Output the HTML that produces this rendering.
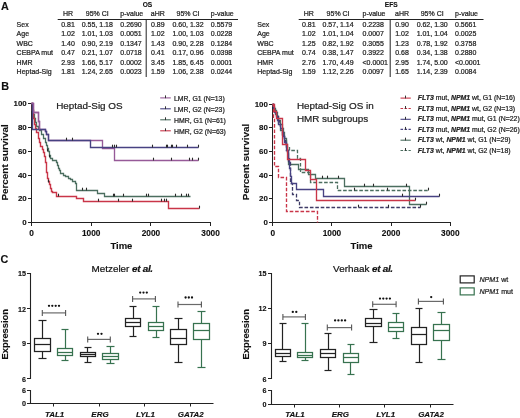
<!DOCTYPE html>
<html><head><meta charset="utf-8"><style>
html,body{margin:0;padding:0;background:#fff;width:520px;height:418px;overflow:hidden}
svg{display:block;will-change:transform}
text{font-family:"Liberation Sans", sans-serif}
</style></head><body>
<svg width="520" height="418" viewBox="0 0 520 418">
<text x="1.0" y="9.6" font-size="10.8" font-weight="bold" font-style="normal" text-anchor="start" fill="#111" stroke="#111" stroke-width="0.132" >A</text>
<text x="147.4" y="6.8" font-size="6.6" font-weight="bold" font-style="normal" text-anchor="middle" fill="#111" stroke="#111" stroke-width="0.132" >OS</text>
<text x="391.2" y="6.8" font-size="6.6" font-weight="bold" font-style="normal" text-anchor="middle" fill="#111" stroke="#111" stroke-width="0.132" >EFS</text>
<text x="68.0" y="15.8" font-size="7.0" font-weight="normal" font-style="normal" text-anchor="middle" fill="#222" stroke="#222" stroke-width="0.22" >HR</text>
<text x="97.3" y="15.8" font-size="7.0" font-weight="normal" font-style="normal" text-anchor="middle" fill="#222" stroke="#222" stroke-width="0.22" >95% CI</text>
<text x="120.3" y="15.8" font-size="7.0" font-weight="normal" font-style="normal" text-anchor="start" fill="#222" stroke="#222" stroke-width="0.22" >p-value</text>
<text x="157.8" y="15.8" font-size="7.0" font-weight="normal" font-style="normal" text-anchor="middle" fill="#222" stroke="#222" stroke-width="0.22" >aHR</text>
<text x="188.0" y="15.8" font-size="7.0" font-weight="normal" font-style="normal" text-anchor="middle" fill="#222" stroke="#222" stroke-width="0.22" >95% CI</text>
<text x="210.8" y="15.8" font-size="7.0" font-weight="normal" font-style="normal" text-anchor="start" fill="#222" stroke="#222" stroke-width="0.22" >p-value</text>
<line x1="57.7" y1="19.5" x2="238.0" y2="19.5" stroke="#222" stroke-width="1" />
<line x1="146.2" y1="19.5" x2="146.2" y2="77" stroke="#222" stroke-width="1" />
<text x="16.6" y="26.9" font-size="7.0" font-weight="normal" font-style="normal" text-anchor="start" fill="#222" stroke="#222" stroke-width="0.22" >Sex</text>
<text x="68.0" y="26.9" font-size="7.0" font-weight="normal" font-style="normal" text-anchor="middle" fill="#222" stroke="#222" stroke-width="0.22" >0.81</text>
<text x="97.3" y="26.9" font-size="7.0" font-weight="normal" font-style="normal" text-anchor="middle" fill="#222" stroke="#222" stroke-width="0.22" >0.55, 1.18</text>
<text x="120.3" y="26.9" font-size="7.0" font-weight="normal" font-style="normal" text-anchor="start" fill="#222" stroke="#222" stroke-width="0.22" >0.2690</text>
<text x="157.8" y="26.9" font-size="7.0" font-weight="normal" font-style="normal" text-anchor="middle" fill="#222" stroke="#222" stroke-width="0.22" >0.89</text>
<text x="188.0" y="26.9" font-size="7.0" font-weight="normal" font-style="normal" text-anchor="middle" fill="#222" stroke="#222" stroke-width="0.22" >0.60, 1.32</text>
<text x="210.8" y="26.9" font-size="7.0" font-weight="normal" font-style="normal" text-anchor="start" fill="#222" stroke="#222" stroke-width="0.22" >0.5579</text>
<text x="16.6" y="36.3" font-size="7.0" font-weight="normal" font-style="normal" text-anchor="start" fill="#222" stroke="#222" stroke-width="0.22" >Age</text>
<text x="68.0" y="36.3" font-size="7.0" font-weight="normal" font-style="normal" text-anchor="middle" fill="#222" stroke="#222" stroke-width="0.22" >1.02</text>
<text x="97.3" y="36.3" font-size="7.0" font-weight="normal" font-style="normal" text-anchor="middle" fill="#222" stroke="#222" stroke-width="0.22" >1.01, 1.03</text>
<text x="120.3" y="36.3" font-size="7.0" font-weight="normal" font-style="normal" text-anchor="start" fill="#222" stroke="#222" stroke-width="0.22" >0.0051</text>
<text x="157.8" y="36.3" font-size="7.0" font-weight="normal" font-style="normal" text-anchor="middle" fill="#222" stroke="#222" stroke-width="0.22" >1.02</text>
<text x="188.0" y="36.3" font-size="7.0" font-weight="normal" font-style="normal" text-anchor="middle" fill="#222" stroke="#222" stroke-width="0.22" >1.00, 1.03</text>
<text x="210.8" y="36.3" font-size="7.0" font-weight="normal" font-style="normal" text-anchor="start" fill="#222" stroke="#222" stroke-width="0.22" >0.0228</text>
<text x="16.6" y="45.7" font-size="7.0" font-weight="normal" font-style="normal" text-anchor="start" fill="#222" stroke="#222" stroke-width="0.22" >WBC</text>
<text x="68.0" y="45.7" font-size="7.0" font-weight="normal" font-style="normal" text-anchor="middle" fill="#222" stroke="#222" stroke-width="0.22" >1.40</text>
<text x="97.3" y="45.7" font-size="7.0" font-weight="normal" font-style="normal" text-anchor="middle" fill="#222" stroke="#222" stroke-width="0.22" >0.90, 2.19</text>
<text x="120.3" y="45.7" font-size="7.0" font-weight="normal" font-style="normal" text-anchor="start" fill="#222" stroke="#222" stroke-width="0.22" >0.1347</text>
<text x="157.8" y="45.7" font-size="7.0" font-weight="normal" font-style="normal" text-anchor="middle" fill="#222" stroke="#222" stroke-width="0.22" >1.43</text>
<text x="188.0" y="45.7" font-size="7.0" font-weight="normal" font-style="normal" text-anchor="middle" fill="#222" stroke="#222" stroke-width="0.22" >0.90, 2.28</text>
<text x="210.8" y="45.7" font-size="7.0" font-weight="normal" font-style="normal" text-anchor="start" fill="#222" stroke="#222" stroke-width="0.22" >0.1284</text>
<text x="16.6" y="55.1" font-size="7.0" font-weight="normal" font-style="normal" text-anchor="start" fill="#222" stroke="#222" stroke-width="0.22" >CEBPA mut</text>
<text x="68.0" y="55.1" font-size="7.0" font-weight="normal" font-style="normal" text-anchor="middle" fill="#222" stroke="#222" stroke-width="0.22" >0.47</text>
<text x="97.3" y="55.1" font-size="7.0" font-weight="normal" font-style="normal" text-anchor="middle" fill="#222" stroke="#222" stroke-width="0.22" >0.21, 1.07</text>
<text x="120.3" y="55.1" font-size="7.0" font-weight="normal" font-style="normal" text-anchor="start" fill="#222" stroke="#222" stroke-width="0.22" >0.0718</text>
<text x="157.8" y="55.1" font-size="7.0" font-weight="normal" font-style="normal" text-anchor="middle" fill="#222" stroke="#222" stroke-width="0.22" >0.41</text>
<text x="188.0" y="55.1" font-size="7.0" font-weight="normal" font-style="normal" text-anchor="middle" fill="#222" stroke="#222" stroke-width="0.22" >0.17, 0.96</text>
<text x="210.8" y="55.1" font-size="7.0" font-weight="normal" font-style="normal" text-anchor="start" fill="#222" stroke="#222" stroke-width="0.22" >0.0398</text>
<text x="16.6" y="64.5" font-size="7.0" font-weight="normal" font-style="normal" text-anchor="start" fill="#222" stroke="#222" stroke-width="0.22" >HMR</text>
<text x="68.0" y="64.5" font-size="7.0" font-weight="normal" font-style="normal" text-anchor="middle" fill="#222" stroke="#222" stroke-width="0.22" >2.93</text>
<text x="97.3" y="64.5" font-size="7.0" font-weight="normal" font-style="normal" text-anchor="middle" fill="#222" stroke="#222" stroke-width="0.22" >1.66, 5.17</text>
<text x="120.3" y="64.5" font-size="7.0" font-weight="normal" font-style="normal" text-anchor="start" fill="#222" stroke="#222" stroke-width="0.22" >0.0002</text>
<text x="157.8" y="64.5" font-size="7.0" font-weight="normal" font-style="normal" text-anchor="middle" fill="#222" stroke="#222" stroke-width="0.22" >3.45</text>
<text x="188.0" y="64.5" font-size="7.0" font-weight="normal" font-style="normal" text-anchor="middle" fill="#222" stroke="#222" stroke-width="0.22" >1.85, 6.45</text>
<text x="210.8" y="64.5" font-size="7.0" font-weight="normal" font-style="normal" text-anchor="start" fill="#222" stroke="#222" stroke-width="0.22" >0.0001</text>
<text x="16.6" y="73.9" font-size="7.0" font-weight="normal" font-style="normal" text-anchor="start" fill="#222" stroke="#222" stroke-width="0.22" >Heptad-Sig</text>
<text x="68.0" y="73.9" font-size="7.0" font-weight="normal" font-style="normal" text-anchor="middle" fill="#222" stroke="#222" stroke-width="0.22" >1.81</text>
<text x="97.3" y="73.9" font-size="7.0" font-weight="normal" font-style="normal" text-anchor="middle" fill="#222" stroke="#222" stroke-width="0.22" >1.24, 2.65</text>
<text x="120.3" y="73.9" font-size="7.0" font-weight="normal" font-style="normal" text-anchor="start" fill="#222" stroke="#222" stroke-width="0.22" >0.0023</text>
<text x="157.8" y="73.9" font-size="7.0" font-weight="normal" font-style="normal" text-anchor="middle" fill="#222" stroke="#222" stroke-width="0.22" >1.59</text>
<text x="188.0" y="73.9" font-size="7.0" font-weight="normal" font-style="normal" text-anchor="middle" fill="#222" stroke="#222" stroke-width="0.22" >1.06, 2.38</text>
<text x="210.8" y="73.9" font-size="7.0" font-weight="normal" font-style="normal" text-anchor="start" fill="#222" stroke="#222" stroke-width="0.22" >0.0244</text>
<text x="308.8" y="15.8" font-size="7.0" font-weight="normal" font-style="normal" text-anchor="middle" fill="#222" stroke="#222" stroke-width="0.22" >HR</text>
<text x="338.1" y="15.8" font-size="7.0" font-weight="normal" font-style="normal" text-anchor="middle" fill="#222" stroke="#222" stroke-width="0.22" >95% CI</text>
<text x="362.5" y="15.8" font-size="7.0" font-weight="normal" font-style="normal" text-anchor="start" fill="#222" stroke="#222" stroke-width="0.22" >p-value</text>
<text x="402.0" y="15.8" font-size="7.0" font-weight="normal" font-style="normal" text-anchor="middle" fill="#222" stroke="#222" stroke-width="0.22" >aHR</text>
<text x="432.2" y="15.8" font-size="7.0" font-weight="normal" font-style="normal" text-anchor="middle" fill="#222" stroke="#222" stroke-width="0.22" >95% CI</text>
<text x="455.0" y="15.8" font-size="7.0" font-weight="normal" font-style="normal" text-anchor="start" fill="#222" stroke="#222" stroke-width="0.22" >p-value</text>
<line x1="298.7" y1="19.5" x2="483.5" y2="19.5" stroke="#222" stroke-width="1" />
<line x1="390.2" y1="19.5" x2="390.2" y2="77" stroke="#222" stroke-width="1" />
<text x="257.3" y="26.9" font-size="7.0" font-weight="normal" font-style="normal" text-anchor="start" fill="#222" stroke="#222" stroke-width="0.22" >Sex</text>
<text x="308.8" y="26.9" font-size="7.0" font-weight="normal" font-style="normal" text-anchor="middle" fill="#222" stroke="#222" stroke-width="0.22" >0.81</text>
<text x="338.1" y="26.9" font-size="7.0" font-weight="normal" font-style="normal" text-anchor="middle" fill="#222" stroke="#222" stroke-width="0.22" >0.57, 1.14</text>
<text x="362.5" y="26.9" font-size="7.0" font-weight="normal" font-style="normal" text-anchor="start" fill="#222" stroke="#222" stroke-width="0.22" >0.2238</text>
<text x="402.0" y="26.9" font-size="7.0" font-weight="normal" font-style="normal" text-anchor="middle" fill="#222" stroke="#222" stroke-width="0.22" >0.90</text>
<text x="432.2" y="26.9" font-size="7.0" font-weight="normal" font-style="normal" text-anchor="middle" fill="#222" stroke="#222" stroke-width="0.22" >0.62, 1.30</text>
<text x="455.0" y="26.9" font-size="7.0" font-weight="normal" font-style="normal" text-anchor="start" fill="#222" stroke="#222" stroke-width="0.22" >0.5661</text>
<text x="257.3" y="36.3" font-size="7.0" font-weight="normal" font-style="normal" text-anchor="start" fill="#222" stroke="#222" stroke-width="0.22" >Age</text>
<text x="308.8" y="36.3" font-size="7.0" font-weight="normal" font-style="normal" text-anchor="middle" fill="#222" stroke="#222" stroke-width="0.22" >1.02</text>
<text x="338.1" y="36.3" font-size="7.0" font-weight="normal" font-style="normal" text-anchor="middle" fill="#222" stroke="#222" stroke-width="0.22" >1.01, 1.04</text>
<text x="362.5" y="36.3" font-size="7.0" font-weight="normal" font-style="normal" text-anchor="start" fill="#222" stroke="#222" stroke-width="0.22" >0.0007</text>
<text x="402.0" y="36.3" font-size="7.0" font-weight="normal" font-style="normal" text-anchor="middle" fill="#222" stroke="#222" stroke-width="0.22" >1.02</text>
<text x="432.2" y="36.3" font-size="7.0" font-weight="normal" font-style="normal" text-anchor="middle" fill="#222" stroke="#222" stroke-width="0.22" >1.01, 1.04</text>
<text x="455.0" y="36.3" font-size="7.0" font-weight="normal" font-style="normal" text-anchor="start" fill="#222" stroke="#222" stroke-width="0.22" >0.0025</text>
<text x="257.3" y="45.7" font-size="7.0" font-weight="normal" font-style="normal" text-anchor="start" fill="#222" stroke="#222" stroke-width="0.22" >WBC</text>
<text x="308.8" y="45.7" font-size="7.0" font-weight="normal" font-style="normal" text-anchor="middle" fill="#222" stroke="#222" stroke-width="0.22" >1.25</text>
<text x="338.1" y="45.7" font-size="7.0" font-weight="normal" font-style="normal" text-anchor="middle" fill="#222" stroke="#222" stroke-width="0.22" >0.82, 1.92</text>
<text x="362.5" y="45.7" font-size="7.0" font-weight="normal" font-style="normal" text-anchor="start" fill="#222" stroke="#222" stroke-width="0.22" >0.3055</text>
<text x="402.0" y="45.7" font-size="7.0" font-weight="normal" font-style="normal" text-anchor="middle" fill="#222" stroke="#222" stroke-width="0.22" >1.23</text>
<text x="432.2" y="45.7" font-size="7.0" font-weight="normal" font-style="normal" text-anchor="middle" fill="#222" stroke="#222" stroke-width="0.22" >0.78, 1.92</text>
<text x="455.0" y="45.7" font-size="7.0" font-weight="normal" font-style="normal" text-anchor="start" fill="#222" stroke="#222" stroke-width="0.22" >0.3758</text>
<text x="257.3" y="55.1" font-size="7.0" font-weight="normal" font-style="normal" text-anchor="start" fill="#222" stroke="#222" stroke-width="0.22" >CEBPA mut</text>
<text x="308.8" y="55.1" font-size="7.0" font-weight="normal" font-style="normal" text-anchor="middle" fill="#222" stroke="#222" stroke-width="0.22" >0.74</text>
<text x="338.1" y="55.1" font-size="7.0" font-weight="normal" font-style="normal" text-anchor="middle" fill="#222" stroke="#222" stroke-width="0.22" >0.38, 1.47</text>
<text x="362.5" y="55.1" font-size="7.0" font-weight="normal" font-style="normal" text-anchor="start" fill="#222" stroke="#222" stroke-width="0.22" >0.3922</text>
<text x="402.0" y="55.1" font-size="7.0" font-weight="normal" font-style="normal" text-anchor="middle" fill="#222" stroke="#222" stroke-width="0.22" >0.68</text>
<text x="432.2" y="55.1" font-size="7.0" font-weight="normal" font-style="normal" text-anchor="middle" fill="#222" stroke="#222" stroke-width="0.22" >0.34, 1.38</text>
<text x="455.0" y="55.1" font-size="7.0" font-weight="normal" font-style="normal" text-anchor="start" fill="#222" stroke="#222" stroke-width="0.22" >0.2880</text>
<text x="257.3" y="64.5" font-size="7.0" font-weight="normal" font-style="normal" text-anchor="start" fill="#222" stroke="#222" stroke-width="0.22" >HMR</text>
<text x="308.8" y="64.5" font-size="7.0" font-weight="normal" font-style="normal" text-anchor="middle" fill="#222" stroke="#222" stroke-width="0.22" >2.76</text>
<text x="338.1" y="64.5" font-size="7.0" font-weight="normal" font-style="normal" text-anchor="middle" fill="#222" stroke="#222" stroke-width="0.22" >1.70, 4.49</text>
<text x="362.5" y="64.5" font-size="7.0" font-weight="normal" font-style="normal" text-anchor="start" fill="#222" stroke="#222" stroke-width="0.22" >&lt;0.0001</text>
<text x="402.0" y="64.5" font-size="7.0" font-weight="normal" font-style="normal" text-anchor="middle" fill="#222" stroke="#222" stroke-width="0.22" >2.95</text>
<text x="432.2" y="64.5" font-size="7.0" font-weight="normal" font-style="normal" text-anchor="middle" fill="#222" stroke="#222" stroke-width="0.22" >1.74, 5.00</text>
<text x="455.0" y="64.5" font-size="7.0" font-weight="normal" font-style="normal" text-anchor="start" fill="#222" stroke="#222" stroke-width="0.22" >&lt;0.0001</text>
<text x="257.3" y="73.9" font-size="7.0" font-weight="normal" font-style="normal" text-anchor="start" fill="#222" stroke="#222" stroke-width="0.22" >Heptad-Sig</text>
<text x="308.8" y="73.9" font-size="7.0" font-weight="normal" font-style="normal" text-anchor="middle" fill="#222" stroke="#222" stroke-width="0.22" >1.59</text>
<text x="338.1" y="73.9" font-size="7.0" font-weight="normal" font-style="normal" text-anchor="middle" fill="#222" stroke="#222" stroke-width="0.22" >1.12, 2.26</text>
<text x="362.5" y="73.9" font-size="7.0" font-weight="normal" font-style="normal" text-anchor="start" fill="#222" stroke="#222" stroke-width="0.22" >0.0097</text>
<text x="402.0" y="73.9" font-size="7.0" font-weight="normal" font-style="normal" text-anchor="middle" fill="#222" stroke="#222" stroke-width="0.22" >1.65</text>
<text x="432.2" y="73.9" font-size="7.0" font-weight="normal" font-style="normal" text-anchor="middle" fill="#222" stroke="#222" stroke-width="0.22" >1.14, 2.39</text>
<text x="455.0" y="73.9" font-size="7.0" font-weight="normal" font-style="normal" text-anchor="start" fill="#222" stroke="#222" stroke-width="0.22" >0.0084</text>
<text x="1.2" y="89.8" font-size="10.8" font-weight="bold" font-style="normal" text-anchor="start" fill="#111" stroke="#111" stroke-width="0.132" >B</text>
<line x1="31.5" y1="223.0" x2="31.5" y2="103.0" stroke="#222" stroke-width="1" />
<line x1="31.0" y1="222.5" x2="211.0" y2="222.5" stroke="#222" stroke-width="1" />
<line x1="28.0" y1="222.5" x2="31.5" y2="222.5" stroke="#222" stroke-width="1" />
<text x="26.7" y="225.20000000000002" font-size="7.9" font-weight="bold" font-style="normal" text-anchor="end" fill="#111" stroke="#111" stroke-width="0.132" >0</text>
<line x1="28.0" y1="198.5" x2="31.5" y2="198.5" stroke="#222" stroke-width="1" />
<text x="26.7" y="201.4" font-size="7.9" font-weight="bold" font-style="normal" text-anchor="end" fill="#111" stroke="#111" stroke-width="0.132" >20</text>
<line x1="28.0" y1="175.5" x2="31.5" y2="175.5" stroke="#222" stroke-width="1" />
<text x="26.7" y="177.6" font-size="7.9" font-weight="bold" font-style="normal" text-anchor="end" fill="#111" stroke="#111" stroke-width="0.132" >40</text>
<line x1="28.0" y1="151.5" x2="31.5" y2="151.5" stroke="#222" stroke-width="1" />
<text x="26.7" y="153.8" font-size="7.9" font-weight="bold" font-style="normal" text-anchor="end" fill="#111" stroke="#111" stroke-width="0.132" >60</text>
<line x1="28.0" y1="127.5" x2="31.5" y2="127.5" stroke="#222" stroke-width="1" />
<text x="26.7" y="130.0" font-size="7.9" font-weight="bold" font-style="normal" text-anchor="end" fill="#111" stroke="#111" stroke-width="0.132" >80</text>
<line x1="28.0" y1="103.5" x2="31.5" y2="103.5" stroke="#222" stroke-width="1" />
<text x="26.7" y="106.2" font-size="7.9" font-weight="bold" font-style="normal" text-anchor="end" fill="#111" stroke="#111" stroke-width="0.132" >100</text>
<line x1="31.5" y1="222.5" x2="31.5" y2="226.0" stroke="#222" stroke-width="1" />
<text x="31.5" y="235.7" font-size="8.3" font-weight="bold" font-style="normal" text-anchor="middle" fill="#111" stroke="#111" stroke-width="0.132" >0</text>
<line x1="91.5" y1="222.5" x2="91.5" y2="226.0" stroke="#222" stroke-width="1" />
<text x="91.2" y="235.7" font-size="8.3" font-weight="bold" font-style="normal" text-anchor="middle" fill="#111" stroke="#111" stroke-width="0.132" >1000</text>
<line x1="150.5" y1="222.5" x2="150.5" y2="226.0" stroke="#222" stroke-width="1" />
<text x="150.9" y="235.7" font-size="8.3" font-weight="bold" font-style="normal" text-anchor="middle" fill="#111" stroke="#111" stroke-width="0.132" >2000</text>
<line x1="210.5" y1="222.5" x2="210.5" y2="226.0" stroke="#222" stroke-width="1" />
<text x="210.60000000000002" y="235.7" font-size="8.3" font-weight="bold" font-style="normal" text-anchor="middle" fill="#111" stroke="#111" stroke-width="0.132" >3000</text>
<line x1="272.5" y1="223.0" x2="272.5" y2="104.0" stroke="#222" stroke-width="1" />
<line x1="272.0" y1="222.5" x2="451.0" y2="222.5" stroke="#222" stroke-width="1" />
<line x1="269.0" y1="222.5" x2="272.5" y2="222.5" stroke="#222" stroke-width="1" />
<text x="267.9" y="225.1" font-size="7.9" font-weight="bold" font-style="normal" text-anchor="end" fill="#111" stroke="#111" stroke-width="0.132" >0</text>
<line x1="269.0" y1="198.5" x2="272.5" y2="198.5" stroke="#222" stroke-width="1" />
<text x="267.9" y="201.38" font-size="7.9" font-weight="bold" font-style="normal" text-anchor="end" fill="#111" stroke="#111" stroke-width="0.132" >20</text>
<line x1="269.0" y1="175.5" x2="272.5" y2="175.5" stroke="#222" stroke-width="1" />
<text x="267.9" y="177.66" font-size="7.9" font-weight="bold" font-style="normal" text-anchor="end" fill="#111" stroke="#111" stroke-width="0.132" >40</text>
<line x1="269.0" y1="151.5" x2="272.5" y2="151.5" stroke="#222" stroke-width="1" />
<text x="267.9" y="153.94" font-size="7.9" font-weight="bold" font-style="normal" text-anchor="end" fill="#111" stroke="#111" stroke-width="0.132" >60</text>
<line x1="269.0" y1="127.5" x2="272.5" y2="127.5" stroke="#222" stroke-width="1" />
<text x="267.9" y="130.22" font-size="7.9" font-weight="bold" font-style="normal" text-anchor="end" fill="#111" stroke="#111" stroke-width="0.132" >80</text>
<line x1="269.0" y1="104.5" x2="272.5" y2="104.5" stroke="#222" stroke-width="1" />
<text x="267.9" y="106.5" font-size="7.9" font-weight="bold" font-style="normal" text-anchor="end" fill="#111" stroke="#111" stroke-width="0.132" >100</text>
<line x1="272.5" y1="222.5" x2="272.5" y2="226.0" stroke="#222" stroke-width="1" />
<text x="272.7" y="235.7" font-size="8.3" font-weight="bold" font-style="normal" text-anchor="middle" fill="#111" stroke="#111" stroke-width="0.132" >0</text>
<line x1="331.5" y1="222.5" x2="331.5" y2="226.0" stroke="#222" stroke-width="1" />
<text x="331.9" y="235.7" font-size="8.3" font-weight="bold" font-style="normal" text-anchor="middle" fill="#111" stroke="#111" stroke-width="0.132" >1000</text>
<line x1="391.5" y1="222.5" x2="391.5" y2="226.0" stroke="#222" stroke-width="1" />
<text x="391.1" y="235.7" font-size="8.3" font-weight="bold" font-style="normal" text-anchor="middle" fill="#111" stroke="#111" stroke-width="0.132" >2000</text>
<line x1="450.5" y1="222.5" x2="450.5" y2="226.0" stroke="#222" stroke-width="1" />
<text x="450.3" y="235.7" font-size="8.3" font-weight="bold" font-style="normal" text-anchor="middle" fill="#111" stroke="#111" stroke-width="0.132" >3000</text>
<text x="121.4" y="249.3" font-size="9.5" font-weight="bold" font-style="normal" text-anchor="middle" fill="#111" stroke="#111" stroke-width="0.132" >Time</text>
<text x="361.6" y="249.3" font-size="9.5" font-weight="bold" font-style="normal" text-anchor="middle" fill="#111" stroke="#111" stroke-width="0.132" >Time</text>
<text x="0" y="0" font-size="9.9" font-weight="bold" font-style="normal" text-anchor="middle" fill="#111" stroke="#111" stroke-width="0.132" transform="translate(7.6,162.4) rotate(-90)">Percent survival</text>
<text x="0" y="0" font-size="9.9" font-weight="bold" font-style="normal" text-anchor="middle" fill="#111" stroke="#111" stroke-width="0.132" transform="translate(248.9,162.0) rotate(-90)">Percent survival</text>
<text x="56.2" y="109.4" font-size="9.9" font-weight="normal" font-style="normal" text-anchor="start" fill="#222" stroke="#222" stroke-width="0.22" >Heptad-Sig OS</text>
<text x="296.9" y="109.2" font-size="9.9" font-weight="normal" font-style="normal" text-anchor="start" fill="#222" stroke="#222" stroke-width="0.22" >Heptad-Sig OS in</text>
<text x="296.9" y="121.6" font-size="9.9" font-weight="normal" font-style="normal" text-anchor="start" fill="#222" stroke="#222" stroke-width="0.22" >HMR subgroups</text>
<path d="M31.5,103.5 H32.5 V110.5 H33.5 V114.5 H34.5 V118.5 H35.5 V122.5 H36.5 V126.5 H38.5 V128.5 H39.5 V130.5 H41.5 V134.5 H43.5 V138.5 H45.5 V142.5 H46.5 V145.5 H47.5 V148.5 H48.5 V151.5 H49.5 V155.5 H50.5 V158.5 H52.5 V160.5 H56.5 V162.5 H57.5 V165.5 H58.5 V168.5 H59.5 V170.5 H60.5 V173.5 H63.5 V175.5 H65.5 V176.5 H68.5 V178.5 H70.5 V179.5 H72.5 V181.5 H75.5 V183.5 H76.5 V190.5 H97.5 V193.5 H104.5 V196.5 H190.5 V196.5" fill="none" stroke="#4b6e5f" stroke-width="1.3" />
<path d="M31.5,103.5 H32.5 V110.5 H33.5 V118.5 H34.5 V124.5 H35.5 V128.5 H36.5 V132.5 H38.5 V138.5 H39.5 V142.5 H40.5 V146.5 H42.5 V149.5 H43.5 V152.5 H44.5 V156.5 H45.5 V162.5 H46.5 V166.5 H46.5 V172.5 H47.5 V176.5 H47.5 V178.5 H48.5 V181.5 H49.5 V184.5 H50.5 V188.5 H51.5 V191.5 H52.5 V192.5 H56.5 V196.5 H76.5 V198.5 H83.5 V201.5 H168.5 V208.5 H199.5 V208.5" fill="none" stroke="#c93548" stroke-width="1.4" />
<path d="M31.5,103.5 H33.5 V112.5 H38.5 V121.5 H39.5 V129.5 H45.5 V131.5 H46.5 V134.5 H48.5 V140.5 H102.5 V148.5 H114.5 V160.5 H198.5 V160.5" fill="none" stroke="#965a98" stroke-width="1.35" />
<path d="M31.5,103.5 H32.5 V129.5 H45.5 V131.5 H46.5 V134.5 H48.5 V140.5 H90.5 V147.5 H198.5 V147.5" fill="none" stroke="#474282" stroke-width="1.4" />
<path d="M31.5,103.5 H33.5 V112.5 H38.5 V121.5 H39.5 V129.5" fill="none" stroke="#965a98" stroke-width="1.35" />
<line x1="66.5" y1="137.7" x2="66.5" y2="140.5" stroke="#2a2a2a" stroke-width="1.1" />
<line x1="72.5" y1="137.7" x2="72.5" y2="140.5" stroke="#2a2a2a" stroke-width="1.1" />
<line x1="112.5" y1="144.7" x2="112.5" y2="147.5" stroke="#2a2a2a" stroke-width="1.1" />
<line x1="114.5" y1="144.7" x2="114.5" y2="147.5" stroke="#2a2a2a" stroke-width="1.1" />
<line x1="116.5" y1="144.7" x2="116.5" y2="147.5" stroke="#2a2a2a" stroke-width="1.1" />
<line x1="152.5" y1="144.7" x2="152.5" y2="147.5" stroke="#2a2a2a" stroke-width="1.1" />
<line x1="166.5" y1="144.7" x2="166.5" y2="147.5" stroke="#2a2a2a" stroke-width="1.1" />
<line x1="167.5" y1="144.7" x2="167.5" y2="147.5" stroke="#2a2a2a" stroke-width="1.1" />
<line x1="171.5" y1="144.7" x2="171.5" y2="147.5" stroke="#2a2a2a" stroke-width="1.1" />
<line x1="172.5" y1="144.7" x2="172.5" y2="147.5" stroke="#2a2a2a" stroke-width="1.1" />
<line x1="176.5" y1="144.7" x2="176.5" y2="147.5" stroke="#2a2a2a" stroke-width="1.1" />
<line x1="187.5" y1="144.7" x2="187.5" y2="147.5" stroke="#2a2a2a" stroke-width="1.1" />
<line x1="198.5" y1="144.7" x2="198.5" y2="147.5" stroke="#2a2a2a" stroke-width="1.1" />
<line x1="153.5" y1="157.7" x2="153.5" y2="160.5" stroke="#2a2a2a" stroke-width="1.1" />
<line x1="171.5" y1="157.7" x2="171.5" y2="160.5" stroke="#2a2a2a" stroke-width="1.1" />
<line x1="189.5" y1="157.7" x2="189.5" y2="160.5" stroke="#2a2a2a" stroke-width="1.1" />
<line x1="192.5" y1="157.7" x2="192.5" y2="160.5" stroke="#2a2a2a" stroke-width="1.1" />
<line x1="198.5" y1="157.7" x2="198.5" y2="160.5" stroke="#2a2a2a" stroke-width="1.1" />
<line x1="82.5" y1="187.7" x2="82.5" y2="190.5" stroke="#2a2a2a" stroke-width="1.1" />
<line x1="86.5" y1="187.7" x2="86.5" y2="190.5" stroke="#2a2a2a" stroke-width="1.1" />
<line x1="113.5" y1="193.7" x2="113.5" y2="196.5" stroke="#2a2a2a" stroke-width="1.1" />
<line x1="114.5" y1="193.7" x2="114.5" y2="196.5" stroke="#2a2a2a" stroke-width="1.1" />
<line x1="123.5" y1="193.7" x2="123.5" y2="196.5" stroke="#2a2a2a" stroke-width="1.1" />
<line x1="146.5" y1="193.7" x2="146.5" y2="196.5" stroke="#2a2a2a" stroke-width="1.1" />
<line x1="148.5" y1="193.7" x2="148.5" y2="196.5" stroke="#2a2a2a" stroke-width="1.1" />
<line x1="175.5" y1="193.7" x2="175.5" y2="196.5" stroke="#2a2a2a" stroke-width="1.1" />
<line x1="181.5" y1="193.7" x2="181.5" y2="196.5" stroke="#2a2a2a" stroke-width="1.1" />
<line x1="186.5" y1="193.7" x2="186.5" y2="196.5" stroke="#2a2a2a" stroke-width="1.1" />
<line x1="188.5" y1="193.7" x2="188.5" y2="196.5" stroke="#2a2a2a" stroke-width="1.1" />
<line x1="58.5" y1="193.7" x2="58.5" y2="196.5" stroke="#2a2a2a" stroke-width="1.1" />
<line x1="98.5" y1="198.7" x2="98.5" y2="201.5" stroke="#2a2a2a" stroke-width="1.1" />
<line x1="118.5" y1="198.7" x2="118.5" y2="201.5" stroke="#2a2a2a" stroke-width="1.1" />
<line x1="132.5" y1="198.7" x2="132.5" y2="201.5" stroke="#2a2a2a" stroke-width="1.1" />
<line x1="161.5" y1="198.7" x2="161.5" y2="201.5" stroke="#2a2a2a" stroke-width="1.1" />
<line x1="164.5" y1="198.7" x2="164.5" y2="201.5" stroke="#2a2a2a" stroke-width="1.1" />
<line x1="166.5" y1="198.7" x2="166.5" y2="201.5" stroke="#2a2a2a" stroke-width="1.1" />
<line x1="199.5" y1="205.7" x2="199.5" y2="208.5" stroke="#2a2a2a" stroke-width="1.1" />
<line x1="48.5" y1="179.7" x2="48.5" y2="182.5" stroke="#2a2a2a" stroke-width="1.1" />
<line x1="47.5" y1="148.7" x2="47.5" y2="151.5" stroke="#2a2a2a" stroke-width="1.1" />
<line x1="49.5" y1="154.7" x2="49.5" y2="157.5" stroke="#2a2a2a" stroke-width="1.1" />
<line x1="160.2" y1="97.9" x2="170.8" y2="97.9" stroke="#965a98" stroke-width="1.1" />
<line x1="165.5" y1="95.4" x2="165.5" y2="98.2" stroke="#333" stroke-width="1" />
<text x="174.0" y="100.6" font-size="6.9" font-weight="normal" font-style="normal" text-anchor="start" fill="#222" stroke="#222" stroke-width="0.22" >LMR, G1 (N=13)</text>
<line x1="160.2" y1="108.8" x2="170.8" y2="108.8" stroke="#474282" stroke-width="1.1" />
<line x1="165.5" y1="106.3" x2="165.5" y2="109.1" stroke="#333" stroke-width="1" />
<text x="174.0" y="111.63" font-size="6.9" font-weight="normal" font-style="normal" text-anchor="start" fill="#222" stroke="#222" stroke-width="0.22" >LMR, G2 (N=23)</text>
<line x1="160.2" y1="119.8" x2="170.8" y2="119.8" stroke="#4b6e5f" stroke-width="1.1" />
<line x1="165.5" y1="117.3" x2="165.5" y2="120.1" stroke="#333" stroke-width="1" />
<text x="174.0" y="122.66" font-size="6.9" font-weight="normal" font-style="normal" text-anchor="start" fill="#222" stroke="#222" stroke-width="0.22" >HMR, G1 (N=61)</text>
<line x1="160.2" y1="130.8" x2="170.8" y2="130.8" stroke="#c93548" stroke-width="1.1" />
<line x1="165.5" y1="128.3" x2="165.5" y2="131.10000000000002" stroke="#333" stroke-width="1" />
<text x="174.0" y="133.69" font-size="6.9" font-weight="normal" font-style="normal" text-anchor="start" fill="#222" stroke="#222" stroke-width="0.22" >HMR, G2 (N=63)</text>
<path d="M272.5,104.5 H273.5 V108.5 H275.5 V114.5 H277.5 V118.5 H278.5 V124.5 H280.5 V130.5 H282.5 V136.5 H284.5 V140.5 H286.5 V146.5 H289.5 V150.5 H297.5 V158.5 H300.5 V172.5 H310.5 V182.5 H337.5 V190.5 H428.5 V190.5" fill="none" stroke="#4b6e5f" stroke-width="1.3" stroke-dasharray="3.6,1.8"/>
<path d="M272.5,104.5 H273.5 V106.5 H274.5 V110.5 H276.5 V112.5 H277.5 V116.5 H278.5 V120.5 H280.5 V124.5 H282.5 V128.5 H283.5 V132.5 H284.5 V138.5 H286.5 V144.5 H287.5 V152.5 H288.5 V164.5 H298.5 V169.5 H308.5 V174.5 H315.5 V178.5 H344.5 V186.5 H409.5 V204.5 H426.5 V204.5" fill="none" stroke="#4b6e5f" stroke-width="1.3" />
<path d="M272.5,104.5 H273.5 V108.5 H274.5 V112.5 H276.5 V116.5 H278.5 V120.5 H279.5 V124.5 H280.5 V128.5 H282.5 V134.5 H284.5 V138.5 H285.5 V144.5 H286.5 V150.5 H288.5 V162.5 H290.5 V183.5 H292.5 V194.5 H296.5 V200.5 H299.5 V207.5 H420.5 V207.5" fill="none" stroke="#3e3b66" stroke-width="1.3" stroke-dasharray="3.6,1.8"/>
<path d="M272.5,104.5 H273.5 V108.5 H274.5 V112.5 H276.5 V116.5 H277.5 V120.5 H278.5 V124.5 H280.5 V128.5 H282.5 V132.5 H283.5 V136.5 H284.5 V142.5 H286.5 V150.5 H288.5 V158.5 H289.5 V168.5 H290.5 V176.5 H291.5 V183.5 H296.5 V189.5 H323.5 V196.5 H439.5 V196.5" fill="none" stroke="#474282" stroke-width="1.35" />
<path d="M272.5,104.5 H273.5 V118.5 H274.5 V166.5 H278.5 V177.5 H286.5 V211.5 H317.5 V222.5" fill="none" stroke="#c93548" stroke-width="1.35" stroke-dasharray="3.6,1.8"/>
<path d="M272.5,104.5 H274.5 V111.5 H276.5 V118.5 H282.5 V144.5 H287.5 V159.5 H305.5 V170.5 H310.5 V179.5 H316.5 V200.5 H415.5 V200.5" fill="none" stroke="#c93548" stroke-width="1.35" />
<line x1="322.5" y1="175.7" x2="322.5" y2="178.5" stroke="#2a2a2a" stroke-width="1.1" />
<line x1="327.5" y1="175.7" x2="327.5" y2="178.5" stroke="#2a2a2a" stroke-width="1.1" />
<line x1="338.5" y1="175.7" x2="338.5" y2="178.5" stroke="#2a2a2a" stroke-width="1.1" />
<line x1="364.5" y1="183.7" x2="364.5" y2="186.5" stroke="#2a2a2a" stroke-width="1.1" />
<line x1="373.5" y1="183.7" x2="373.5" y2="186.5" stroke="#2a2a2a" stroke-width="1.1" />
<line x1="406.5" y1="183.7" x2="406.5" y2="186.5" stroke="#2a2a2a" stroke-width="1.1" />
<line x1="426.5" y1="201.7" x2="426.5" y2="204.5" stroke="#2a2a2a" stroke-width="1.1" />
<line x1="354.5" y1="187.7" x2="354.5" y2="190.5" stroke="#2a2a2a" stroke-width="1.1" />
<line x1="387.5" y1="187.7" x2="387.5" y2="190.5" stroke="#2a2a2a" stroke-width="1.1" />
<line x1="428.5" y1="187.7" x2="428.5" y2="190.5" stroke="#2a2a2a" stroke-width="1.1" />
<line x1="402.5" y1="193.7" x2="402.5" y2="196.5" stroke="#2a2a2a" stroke-width="1.1" />
<line x1="439.5" y1="193.7" x2="439.5" y2="196.5" stroke="#2a2a2a" stroke-width="1.1" />
<line x1="415.5" y1="197.7" x2="415.5" y2="200.5" stroke="#2a2a2a" stroke-width="1.1" />
<line x1="358.5" y1="204.7" x2="358.5" y2="207.5" stroke="#2a2a2a" stroke-width="1.1" />
<line x1="388.5" y1="204.7" x2="388.5" y2="207.5" stroke="#2a2a2a" stroke-width="1.1" />
<line x1="420.5" y1="204.7" x2="420.5" y2="207.5" stroke="#2a2a2a" stroke-width="1.1" />
<line x1="400.5" y1="98.1" x2="410.8" y2="98.1" stroke="#c93548" stroke-width="1.1" />
<line x1="405.5" y1="95.6" x2="405.5" y2="98.39999999999999" stroke="#333" stroke-width="1" />
<text x="417.8" y="99.9" font-size="6.9" fill="#222" stroke="#222" stroke-width="0.22"><tspan font-weight="bold" font-style="italic">FLT3</tspan> mut, <tspan font-weight="bold" font-style="italic">NPM1</tspan> wt, G1 (N=16)</text>
<line x1="400.5" y1="108.5" x2="410.8" y2="108.5" stroke="#c93548" stroke-width="1.1" stroke-dasharray="2.6,1.4"/>
<line x1="405.5" y1="106.0" x2="405.5" y2="108.8" stroke="#333" stroke-width="1" />
<text x="417.8" y="110.5" font-size="6.9" fill="#222" stroke="#222" stroke-width="0.22"><tspan font-weight="bold" font-style="italic">FLT3</tspan> mut, <tspan font-weight="bold" font-style="italic">NPM1</tspan> wt, G2 (N=13)</text>
<line x1="400.5" y1="119.3" x2="410.8" y2="119.3" stroke="#474282" stroke-width="1.1" />
<line x1="405.5" y1="116.8" x2="405.5" y2="119.6" stroke="#333" stroke-width="1" />
<text x="417.8" y="121.10000000000001" font-size="6.9" fill="#222" stroke="#222" stroke-width="0.22"><tspan font-weight="bold" font-style="italic">FLT3</tspan> mut, <tspan font-weight="bold" font-style="italic">NPM1</tspan> mut, G1 (N=22)</text>
<line x1="400.5" y1="129.4" x2="410.8" y2="129.4" stroke="#474282" stroke-width="1.1" stroke-dasharray="2.6,1.4"/>
<line x1="405.5" y1="126.9" x2="405.5" y2="129.70000000000002" stroke="#333" stroke-width="1" />
<text x="417.8" y="131.70000000000002" font-size="6.9" fill="#222" stroke="#222" stroke-width="0.22"><tspan font-weight="bold" font-style="italic">FLT3</tspan> mut, <tspan font-weight="bold" font-style="italic">NPM1</tspan> mut, G2 (N=26)</text>
<line x1="400.5" y1="140.2" x2="410.8" y2="140.2" stroke="#4b6e5f" stroke-width="1.1" />
<line x1="405.5" y1="137.7" x2="405.5" y2="140.5" stroke="#333" stroke-width="1" />
<text x="417.8" y="142.3" font-size="6.9" fill="#222" stroke="#222" stroke-width="0.22"><tspan font-weight="bold" font-style="italic">FLT3</tspan> wt, <tspan font-weight="bold" font-style="italic">NPM1</tspan> wt, G1 (N=29)</text>
<line x1="400.5" y1="150.5" x2="410.8" y2="150.5" stroke="#4b6e5f" stroke-width="1.1" stroke-dasharray="2.6,1.4"/>
<line x1="405.5" y1="148.0" x2="405.5" y2="150.8" stroke="#333" stroke-width="1" />
<text x="417.8" y="152.9" font-size="6.9" fill="#222" stroke="#222" stroke-width="0.22"><tspan font-weight="bold" font-style="italic">FLT3</tspan> wt, <tspan font-weight="bold" font-style="italic">NPM1</tspan> wt, G2 (N=18)</text>
<text x="0.6" y="262.9" font-size="10.8" font-weight="bold" font-style="normal" text-anchor="start" fill="#111" stroke="#111" stroke-width="0.132" >C</text>
<line x1="30.5" y1="273.0" x2="30.5" y2="379.0" stroke="#222" stroke-width="1.1" />
<line x1="30.5" y1="390.0" x2="30.5" y2="403.5" stroke="#222" stroke-width="1.1" />
<line x1="30.0" y1="403.5" x2="213.5" y2="403.5" stroke="#222" stroke-width="1.1" />
<line x1="27.0" y1="273.5" x2="30.5" y2="273.5" stroke="#222" stroke-width="1" />
<text x="26.099999999999998" y="276.20000000000005" font-size="7.2" font-weight="bold" font-style="normal" text-anchor="end" fill="#111" stroke="#111" stroke-width="0.132" >15</text>
<line x1="27.0" y1="308.5" x2="30.5" y2="308.5" stroke="#222" stroke-width="1" />
<text x="26.099999999999998" y="311.6" font-size="7.2" font-weight="bold" font-style="normal" text-anchor="end" fill="#111" stroke="#111" stroke-width="0.132" >12</text>
<line x1="27.0" y1="343.5" x2="30.5" y2="343.5" stroke="#222" stroke-width="1" />
<text x="26.099999999999998" y="346.20000000000005" font-size="7.2" font-weight="bold" font-style="normal" text-anchor="end" fill="#111" stroke="#111" stroke-width="0.132" >9</text>
<line x1="27.0" y1="378.5" x2="30.5" y2="378.5" stroke="#222" stroke-width="1" />
<text x="26.099999999999998" y="381.6" font-size="7.2" font-weight="bold" font-style="normal" text-anchor="end" fill="#111" stroke="#111" stroke-width="0.132" >6</text>
<line x1="27.0" y1="390.5" x2="30.5" y2="390.5" stroke="#222" stroke-width="1" />
<text x="26.099999999999998" y="393.3" font-size="7.2" font-weight="bold" font-style="normal" text-anchor="end" fill="#111" stroke="#111" stroke-width="0.132" >6</text>
<line x1="27.0" y1="403.5" x2="30.5" y2="403.5" stroke="#222" stroke-width="1" />
<text x="26.099999999999998" y="406.40000000000003" font-size="7.2" font-weight="bold" font-style="normal" text-anchor="end" fill="#111" stroke="#111" stroke-width="0.132" >0</text>
<line x1="53.5" y1="403.5" x2="53.5" y2="406.5" stroke="#222" stroke-width="1" />
<text x="54.599999999999994" y="416.6" font-size="8.0" font-weight="bold" font-style="italic" text-anchor="middle" fill="#111" stroke="#111" stroke-width="0.132" >TAL1</text>
<line x1="99.5" y1="403.5" x2="99.5" y2="406.5" stroke="#222" stroke-width="1" />
<text x="100.0" y="416.6" font-size="8.0" font-weight="bold" font-style="italic" text-anchor="middle" fill="#111" stroke="#111" stroke-width="0.132" >ERG</text>
<line x1="144.5" y1="403.5" x2="144.5" y2="406.5" stroke="#222" stroke-width="1" />
<text x="145.4" y="416.6" font-size="8.0" font-weight="bold" font-style="italic" text-anchor="middle" fill="#111" stroke="#111" stroke-width="0.132" >LYL1</text>
<line x1="190.5" y1="403.5" x2="190.5" y2="406.5" stroke="#222" stroke-width="1" />
<text x="190.8" y="416.6" font-size="8.0" font-weight="bold" font-style="italic" text-anchor="middle" fill="#111" stroke="#111" stroke-width="0.132" >GATA2</text>
<text x="91.5" y="272.3" font-size="9.9" font-weight="normal" font-style="normal" text-anchor="start" fill="#111" stroke="#111" stroke-width="0.22" >Metzeler <tspan font-weight="bold" font-style="italic" letter-spacing="-0.3">et al.</tspan></text>
<line x1="42.5" y1="320.5" x2="42.5" y2="338.5" stroke="#222" stroke-width="1.2" />
<line x1="42.5" y1="351.5" x2="42.5" y2="358.5" stroke="#222" stroke-width="1.2" />
<line x1="38.5" y1="320.5" x2="46.5" y2="320.5" stroke="#222" stroke-width="1.2" />
<line x1="38.5" y1="358.5" x2="46.5" y2="358.5" stroke="#222" stroke-width="1.2" />
<rect x="34.5" y="338.5" width="16.0" height="13.0" fill="none" stroke="#222" stroke-width="1.25"/>
<line x1="34.5" y1="344.5" x2="50.5" y2="344.5" stroke="#222" stroke-width="1.25" />
<line x1="65.5" y1="329.5" x2="65.5" y2="348.5" stroke="#37724f" stroke-width="1.2" />
<line x1="65.5" y1="355.5" x2="65.5" y2="360.5" stroke="#37724f" stroke-width="1.2" />
<line x1="61.5" y1="329.5" x2="68.5" y2="329.5" stroke="#37724f" stroke-width="1.2" />
<line x1="61.5" y1="360.5" x2="68.5" y2="360.5" stroke="#37724f" stroke-width="1.2" />
<rect x="57.5" y="348.5" width="15.0" height="7.0" fill="none" stroke="#37724f" stroke-width="1.25"/>
<line x1="57.5" y1="352.5" x2="72.5" y2="352.5" stroke="#37724f" stroke-width="1.25" />
<line x1="87.5" y1="347.5" x2="87.5" y2="352.5" stroke="#222" stroke-width="1.2" />
<line x1="87.5" y1="356.5" x2="87.5" y2="362.5" stroke="#222" stroke-width="1.2" />
<line x1="84.5" y1="347.5" x2="91.5" y2="347.5" stroke="#222" stroke-width="1.2" />
<line x1="84.5" y1="362.5" x2="91.5" y2="362.5" stroke="#222" stroke-width="1.2" />
<rect x="80.5" y="352.5" width="15.0" height="4.0" fill="none" stroke="#222" stroke-width="1.25"/>
<line x1="80.5" y1="354.5" x2="95.5" y2="354.5" stroke="#222" stroke-width="1.25" />
<line x1="110.5" y1="346.5" x2="110.5" y2="353.5" stroke="#37724f" stroke-width="1.2" />
<line x1="110.5" y1="359.5" x2="110.5" y2="363.5" stroke="#37724f" stroke-width="1.2" />
<line x1="106.5" y1="346.5" x2="114.5" y2="346.5" stroke="#37724f" stroke-width="1.2" />
<line x1="106.5" y1="363.5" x2="114.5" y2="363.5" stroke="#37724f" stroke-width="1.2" />
<rect x="102.5" y="353.5" width="16.0" height="6.0" fill="none" stroke="#37724f" stroke-width="1.25"/>
<line x1="102.5" y1="356.5" x2="118.5" y2="356.5" stroke="#37724f" stroke-width="1.25" />
<line x1="133.5" y1="306.5" x2="133.5" y2="318.5" stroke="#222" stroke-width="1.2" />
<line x1="133.5" y1="326.5" x2="133.5" y2="336.5" stroke="#222" stroke-width="1.2" />
<line x1="129.5" y1="306.5" x2="136.5" y2="306.5" stroke="#222" stroke-width="1.2" />
<line x1="129.5" y1="336.5" x2="136.5" y2="336.5" stroke="#222" stroke-width="1.2" />
<rect x="125.5" y="318.5" width="15.0" height="8.0" fill="none" stroke="#222" stroke-width="1.25"/>
<line x1="125.5" y1="322.5" x2="140.5" y2="322.5" stroke="#222" stroke-width="1.25" />
<line x1="156.5" y1="306.5" x2="156.5" y2="322.5" stroke="#37724f" stroke-width="1.2" />
<line x1="156.5" y1="330.5" x2="156.5" y2="337.5" stroke="#37724f" stroke-width="1.2" />
<line x1="152.5" y1="306.5" x2="159.5" y2="306.5" stroke="#37724f" stroke-width="1.2" />
<line x1="152.5" y1="337.5" x2="159.5" y2="337.5" stroke="#37724f" stroke-width="1.2" />
<rect x="148.5" y="322.5" width="15.0" height="8.0" fill="none" stroke="#37724f" stroke-width="1.25"/>
<line x1="148.5" y1="326.5" x2="163.5" y2="326.5" stroke="#37724f" stroke-width="1.25" />
<line x1="178.5" y1="318.5" x2="178.5" y2="329.5" stroke="#222" stroke-width="1.2" />
<line x1="178.5" y1="344.5" x2="178.5" y2="362.5" stroke="#222" stroke-width="1.2" />
<line x1="174.5" y1="318.5" x2="182.5" y2="318.5" stroke="#222" stroke-width="1.2" />
<line x1="174.5" y1="362.5" x2="182.5" y2="362.5" stroke="#222" stroke-width="1.2" />
<rect x="170.5" y="329.5" width="16.0" height="15.0" fill="none" stroke="#222" stroke-width="1.25"/>
<line x1="170.5" y1="338.5" x2="186.5" y2="338.5" stroke="#222" stroke-width="1.25" />
<line x1="201.5" y1="311.5" x2="201.5" y2="323.5" stroke="#37724f" stroke-width="1.2" />
<line x1="201.5" y1="339.5" x2="201.5" y2="367.5" stroke="#37724f" stroke-width="1.2" />
<line x1="197.5" y1="311.5" x2="205.5" y2="311.5" stroke="#37724f" stroke-width="1.2" />
<line x1="197.5" y1="367.5" x2="205.5" y2="367.5" stroke="#37724f" stroke-width="1.2" />
<rect x="193.5" y="323.5" width="16.0" height="16.0" fill="none" stroke="#37724f" stroke-width="1.25"/>
<line x1="193.5" y1="330.5" x2="209.5" y2="330.5" stroke="#37724f" stroke-width="1.25" />
<line x1="42.3" y1="312.9" x2="65.6" y2="312.9" stroke="#6a6a6a" stroke-width="1.2" />
<line x1="42.3" y1="309.9" x2="42.3" y2="315.9" stroke="#555" stroke-width="1.1" />
<line x1="65.6" y1="309.9" x2="65.6" y2="315.9" stroke="#555" stroke-width="1.1" />
<circle cx="49" cy="305.8" r="1.15" fill="#111"/>
<circle cx="52.3" cy="305.8" r="1.15" fill="#111"/>
<circle cx="55.7" cy="305.8" r="1.15" fill="#111"/>
<circle cx="59" cy="305.8" r="1.15" fill="#111"/>
<line x1="87.7" y1="339.4" x2="110.3" y2="339.4" stroke="#6a6a6a" stroke-width="1.2" />
<line x1="87.7" y1="336.4" x2="87.7" y2="342.4" stroke="#555" stroke-width="1.1" />
<line x1="110.3" y1="336.4" x2="110.3" y2="342.4" stroke="#555" stroke-width="1.1" />
<circle cx="98" cy="333.8" r="1.15" fill="#111"/>
<circle cx="101.5" cy="333.8" r="1.15" fill="#111"/>
<line x1="132.6" y1="298.9" x2="155.4" y2="298.9" stroke="#6a6a6a" stroke-width="1.2" />
<line x1="132.6" y1="295.9" x2="132.6" y2="301.9" stroke="#555" stroke-width="1.1" />
<line x1="155.4" y1="295.9" x2="155.4" y2="301.9" stroke="#555" stroke-width="1.1" />
<circle cx="140.2" cy="292.6" r="1.15" fill="#111"/>
<circle cx="143.5" cy="292.6" r="1.15" fill="#111"/>
<circle cx="146.8" cy="292.6" r="1.15" fill="#111"/>
<line x1="178" y1="304.5" x2="201.4" y2="304.5" stroke="#6a6a6a" stroke-width="1.2" />
<line x1="178" y1="301.5" x2="178" y2="307.5" stroke="#555" stroke-width="1.1" />
<line x1="201.4" y1="301.5" x2="201.4" y2="307.5" stroke="#555" stroke-width="1.1" />
<circle cx="185.6" cy="297.5" r="1.15" fill="#111"/>
<circle cx="188.8" cy="297.5" r="1.15" fill="#111"/>
<circle cx="192" cy="297.5" r="1.15" fill="#111"/>
<text x="0" y="0" font-size="9.4" font-weight="bold" font-style="normal" text-anchor="middle" fill="#111" stroke="#111" stroke-width="0.132" transform="translate(7.6,334.2) rotate(-90)">Expression</text>
<line x1="271.5" y1="273.0" x2="271.5" y2="379.0" stroke="#222" stroke-width="1.1" />
<line x1="271.5" y1="390.0" x2="271.5" y2="404.5" stroke="#222" stroke-width="1.1" />
<line x1="271.0" y1="404.5" x2="453.5" y2="404.5" stroke="#222" stroke-width="1.1" />
<line x1="268.0" y1="273.5" x2="271.5" y2="273.5" stroke="#222" stroke-width="1" />
<text x="266.4" y="276.20000000000005" font-size="7.2" font-weight="bold" font-style="normal" text-anchor="end" fill="#111" stroke="#111" stroke-width="0.132" >15</text>
<line x1="268.0" y1="308.5" x2="271.5" y2="308.5" stroke="#222" stroke-width="1" />
<text x="266.4" y="311.20000000000005" font-size="7.2" font-weight="bold" font-style="normal" text-anchor="end" fill="#111" stroke="#111" stroke-width="0.132" >12</text>
<line x1="268.0" y1="343.5" x2="271.5" y2="343.5" stroke="#222" stroke-width="1" />
<text x="266.4" y="346.40000000000003" font-size="7.2" font-weight="bold" font-style="normal" text-anchor="end" fill="#111" stroke="#111" stroke-width="0.132" >9</text>
<line x1="268.0" y1="378.5" x2="271.5" y2="378.5" stroke="#222" stroke-width="1" />
<text x="266.4" y="381.5" font-size="7.2" font-weight="bold" font-style="normal" text-anchor="end" fill="#111" stroke="#111" stroke-width="0.132" >6</text>
<line x1="268.0" y1="390.5" x2="271.5" y2="390.5" stroke="#222" stroke-width="1" />
<text x="266.4" y="393.3" font-size="7.2" font-weight="bold" font-style="normal" text-anchor="end" fill="#111" stroke="#111" stroke-width="0.132" >6</text>
<line x1="268.0" y1="404.5" x2="271.5" y2="404.5" stroke="#222" stroke-width="1" />
<text x="266.4" y="406.6" font-size="7.2" font-weight="bold" font-style="normal" text-anchor="end" fill="#111" stroke="#111" stroke-width="0.132" >0</text>
<line x1="294.5" y1="404.5" x2="294.5" y2="407.5" stroke="#222" stroke-width="1" />
<text x="294.90000000000003" y="416.6" font-size="8.0" font-weight="bold" font-style="italic" text-anchor="middle" fill="#111" stroke="#111" stroke-width="0.132" >TAL1</text>
<line x1="339.5" y1="404.5" x2="339.5" y2="407.5" stroke="#222" stroke-width="1" />
<text x="340.3" y="416.6" font-size="8.0" font-weight="bold" font-style="italic" text-anchor="middle" fill="#111" stroke="#111" stroke-width="0.132" >ERG</text>
<line x1="384.5" y1="404.5" x2="384.5" y2="407.5" stroke="#222" stroke-width="1" />
<text x="385.7" y="416.6" font-size="8.0" font-weight="bold" font-style="italic" text-anchor="middle" fill="#111" stroke="#111" stroke-width="0.132" >LYL1</text>
<line x1="430.5" y1="404.5" x2="430.5" y2="407.5" stroke="#222" stroke-width="1" />
<text x="431.1" y="416.6" font-size="8.0" font-weight="bold" font-style="italic" text-anchor="middle" fill="#111" stroke="#111" stroke-width="0.132" >GATA2</text>
<text x="333.1" y="272.3" font-size="9.9" font-weight="normal" font-style="normal" text-anchor="start" fill="#111" stroke="#111" stroke-width="0.22" >Verhaak <tspan font-weight="bold" font-style="italic" letter-spacing="-0.3">et al.</tspan></text>
<line x1="282.5" y1="323.5" x2="282.5" y2="349.5" stroke="#222" stroke-width="1.2" />
<line x1="282.5" y1="356.5" x2="282.5" y2="361.5" stroke="#222" stroke-width="1.2" />
<line x1="279.5" y1="323.5" x2="286.5" y2="323.5" stroke="#222" stroke-width="1.2" />
<line x1="279.5" y1="361.5" x2="286.5" y2="361.5" stroke="#222" stroke-width="1.2" />
<rect x="275.5" y="349.5" width="15.0" height="7.0" fill="none" stroke="#222" stroke-width="1.25"/>
<line x1="275.5" y1="353.5" x2="290.5" y2="353.5" stroke="#222" stroke-width="1.25" />
<line x1="305.5" y1="323.5" x2="305.5" y2="352.5" stroke="#37724f" stroke-width="1.2" />
<line x1="305.5" y1="357.5" x2="305.5" y2="360.5" stroke="#37724f" stroke-width="1.2" />
<line x1="301.5" y1="323.5" x2="308.5" y2="323.5" stroke="#37724f" stroke-width="1.2" />
<line x1="301.5" y1="360.5" x2="308.5" y2="360.5" stroke="#37724f" stroke-width="1.2" />
<rect x="297.5" y="352.5" width="15.0" height="5.0" fill="none" stroke="#37724f" stroke-width="1.25"/>
<line x1="297.5" y1="355.5" x2="312.5" y2="355.5" stroke="#37724f" stroke-width="1.25" />
<line x1="328.5" y1="333.5" x2="328.5" y2="349.5" stroke="#222" stroke-width="1.2" />
<line x1="328.5" y1="357.5" x2="328.5" y2="370.5" stroke="#222" stroke-width="1.2" />
<line x1="324.5" y1="333.5" x2="331.5" y2="333.5" stroke="#222" stroke-width="1.2" />
<line x1="324.5" y1="370.5" x2="331.5" y2="370.5" stroke="#222" stroke-width="1.2" />
<rect x="320.5" y="349.5" width="15.0" height="8.0" fill="none" stroke="#222" stroke-width="1.25"/>
<line x1="320.5" y1="353.5" x2="335.5" y2="353.5" stroke="#222" stroke-width="1.25" />
<line x1="350.5" y1="344.5" x2="350.5" y2="353.5" stroke="#37724f" stroke-width="1.2" />
<line x1="350.5" y1="362.5" x2="350.5" y2="374.5" stroke="#37724f" stroke-width="1.2" />
<line x1="347.5" y1="344.5" x2="354.5" y2="344.5" stroke="#37724f" stroke-width="1.2" />
<line x1="347.5" y1="374.5" x2="354.5" y2="374.5" stroke="#37724f" stroke-width="1.2" />
<rect x="343.5" y="353.5" width="15.0" height="9.0" fill="none" stroke="#37724f" stroke-width="1.25"/>
<line x1="343.5" y1="357.5" x2="358.5" y2="357.5" stroke="#37724f" stroke-width="1.25" />
<line x1="373.5" y1="309.5" x2="373.5" y2="318.5" stroke="#222" stroke-width="1.2" />
<line x1="373.5" y1="326.5" x2="373.5" y2="342.5" stroke="#222" stroke-width="1.2" />
<line x1="369.5" y1="309.5" x2="377.5" y2="309.5" stroke="#222" stroke-width="1.2" />
<line x1="369.5" y1="342.5" x2="377.5" y2="342.5" stroke="#222" stroke-width="1.2" />
<rect x="365.5" y="318.5" width="16.0" height="8.0" fill="none" stroke="#222" stroke-width="1.25"/>
<line x1="365.5" y1="323.5" x2="381.5" y2="323.5" stroke="#222" stroke-width="1.25" />
<line x1="396.5" y1="313.5" x2="396.5" y2="322.5" stroke="#37724f" stroke-width="1.2" />
<line x1="396.5" y1="331.5" x2="396.5" y2="338.5" stroke="#37724f" stroke-width="1.2" />
<line x1="392.5" y1="313.5" x2="399.5" y2="313.5" stroke="#37724f" stroke-width="1.2" />
<line x1="392.5" y1="338.5" x2="399.5" y2="338.5" stroke="#37724f" stroke-width="1.2" />
<rect x="388.5" y="322.5" width="15.0" height="9.0" fill="none" stroke="#37724f" stroke-width="1.25"/>
<line x1="388.5" y1="327.5" x2="403.5" y2="327.5" stroke="#37724f" stroke-width="1.25" />
<line x1="419.5" y1="308.5" x2="419.5" y2="327.5" stroke="#222" stroke-width="1.2" />
<line x1="419.5" y1="344.5" x2="419.5" y2="362.5" stroke="#222" stroke-width="1.2" />
<line x1="415.5" y1="308.5" x2="422.5" y2="308.5" stroke="#222" stroke-width="1.2" />
<line x1="415.5" y1="362.5" x2="422.5" y2="362.5" stroke="#222" stroke-width="1.2" />
<rect x="411.5" y="327.5" width="15.0" height="17.0" fill="none" stroke="#222" stroke-width="1.25"/>
<line x1="411.5" y1="334.5" x2="426.5" y2="334.5" stroke="#222" stroke-width="1.25" />
<line x1="441.5" y1="312.5" x2="441.5" y2="324.5" stroke="#37724f" stroke-width="1.2" />
<line x1="441.5" y1="340.5" x2="441.5" y2="359.5" stroke="#37724f" stroke-width="1.2" />
<line x1="437.5" y1="312.5" x2="445.5" y2="312.5" stroke="#37724f" stroke-width="1.2" />
<line x1="437.5" y1="359.5" x2="445.5" y2="359.5" stroke="#37724f" stroke-width="1.2" />
<rect x="433.5" y="324.5" width="16.0" height="16.0" fill="none" stroke="#37724f" stroke-width="1.25"/>
<line x1="433.5" y1="330.5" x2="449.5" y2="330.5" stroke="#37724f" stroke-width="1.25" />
<line x1="282.9" y1="316.9" x2="305.4" y2="316.9" stroke="#6a6a6a" stroke-width="1.2" />
<line x1="282.9" y1="313.9" x2="282.9" y2="319.9" stroke="#555" stroke-width="1.1" />
<line x1="305.4" y1="313.9" x2="305.4" y2="319.9" stroke="#555" stroke-width="1.1" />
<circle cx="292.8" cy="311.9" r="1.15" fill="#111"/>
<circle cx="296.3" cy="311.9" r="1.15" fill="#111"/>
<line x1="327.3" y1="327.6" x2="351.6" y2="327.6" stroke="#6a6a6a" stroke-width="1.2" />
<line x1="327.3" y1="324.6" x2="327.3" y2="330.6" stroke="#555" stroke-width="1.1" />
<line x1="351.6" y1="324.6" x2="351.6" y2="330.6" stroke="#555" stroke-width="1.1" />
<circle cx="335.1" cy="320.4" r="1.15" fill="#111"/>
<circle cx="338.4" cy="320.4" r="1.15" fill="#111"/>
<circle cx="341.8" cy="320.4" r="1.15" fill="#111"/>
<circle cx="345.1" cy="320.4" r="1.15" fill="#111"/>
<line x1="372.7" y1="304.3" x2="396.1" y2="304.3" stroke="#6a6a6a" stroke-width="1.2" />
<line x1="372.7" y1="301.3" x2="372.7" y2="307.3" stroke="#555" stroke-width="1.1" />
<line x1="396.1" y1="301.3" x2="396.1" y2="307.3" stroke="#555" stroke-width="1.1" />
<circle cx="380" cy="298.6" r="1.15" fill="#111"/>
<circle cx="383.3" cy="298.6" r="1.15" fill="#111"/>
<circle cx="386.6" cy="298.6" r="1.15" fill="#111"/>
<circle cx="389.9" cy="298.6" r="1.15" fill="#111"/>
<line x1="418.4" y1="301.4" x2="443.4" y2="301.4" stroke="#6a6a6a" stroke-width="1.2" />
<line x1="418.4" y1="298.4" x2="418.4" y2="304.4" stroke="#555" stroke-width="1.1" />
<line x1="443.4" y1="298.4" x2="443.4" y2="304.4" stroke="#555" stroke-width="1.1" />
<circle cx="431.2" cy="297.1" r="1.15" fill="#111"/>
<text x="0" y="0" font-size="9.4" font-weight="bold" font-style="normal" text-anchor="middle" fill="#111" stroke="#111" stroke-width="0.132" transform="translate(248.9,334.2) rotate(-90)">Expression</text>
<rect x="460.2" y="275.9" width="14" height="7" fill="none" stroke="#222" stroke-width="1.2"/>
<rect x="460.2" y="287.9" width="14" height="7" fill="none" stroke="#37724f" stroke-width="1.2"/>
<text x="479.5" y="281.6" font-size="7.1" fill="#222" stroke="#222" stroke-width="0.22"><tspan font-style="italic">NPM1</tspan> wt</text>
<text x="479.5" y="293.5" font-size="7.1" fill="#222" stroke="#222" stroke-width="0.22"><tspan font-style="italic">NPM1</tspan> mut</text>
</svg>
</body></html>
